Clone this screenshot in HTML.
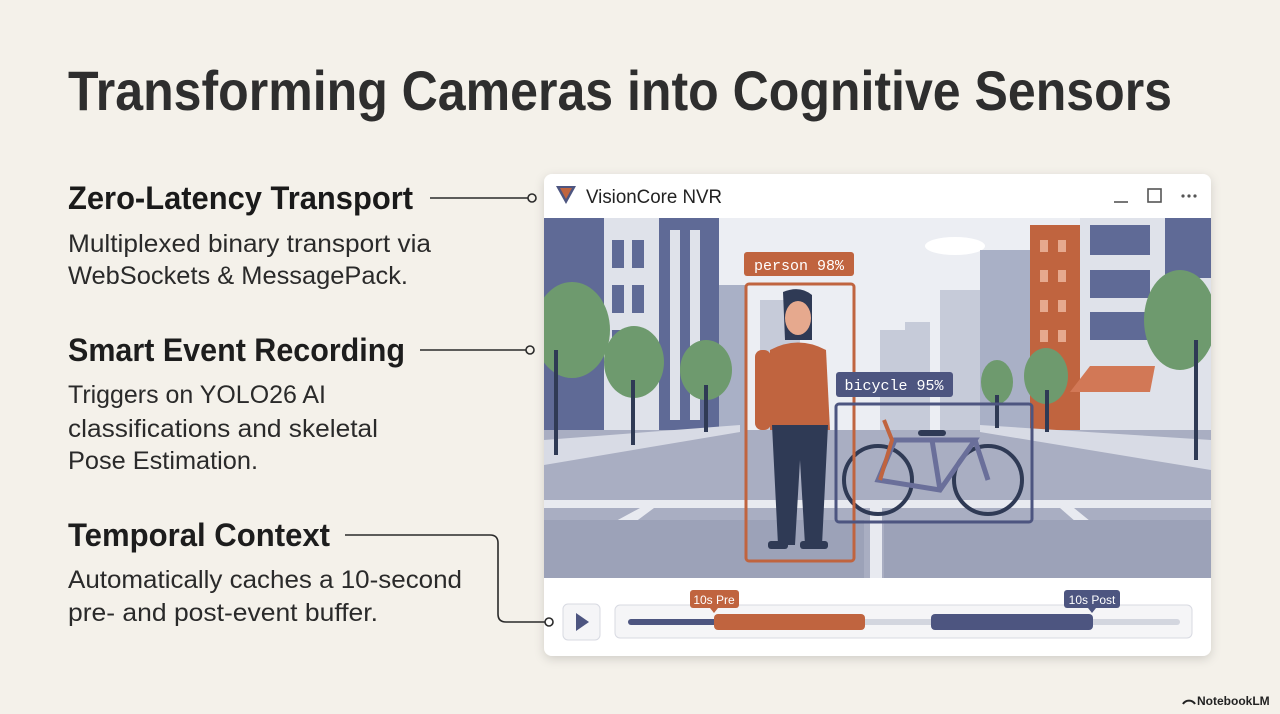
<!DOCTYPE html>
<html><head><meta charset="utf-8"><style>
html,body{margin:0;padding:0;background:#f4f1ea;}
svg{display:block;}
</style></head><body>
<svg width="1280" height="714" viewBox="0 0 1280 714" xmlns="http://www.w3.org/2000/svg" font-family="Liberation Sans, sans-serif">
<defs>
<filter id="sh" x="-5%" y="-5%" width="110%" height="115%"><feDropShadow dx="0" dy="3" stdDeviation="5" flood-color="#000" flood-opacity="0.15"/></filter>
<clipPath id="sc"><rect x="544" y="218" width="667" height="360"/></clipPath>
</defs>
<rect width="1280" height="714" fill="#f4f1ea"/>
<text x="68" y="110" font-size="56" font-weight="bold" fill="#2e2e2e" textLength="1104" lengthAdjust="spacingAndGlyphs">Transforming Cameras into Cognitive Sensors</text>

<g fill="#1d1d1d">
<text x="68" y="209" font-size="32" textLength="345" lengthAdjust="spacingAndGlyphs" font-weight="bold" fill="#1a1a1a">Zero-Latency Transport</text>
<text x="68" y="252" font-size="25" textLength="363" lengthAdjust="spacingAndGlyphs" fill="#2a2a2a">Multiplexed binary transport via</text>
<text x="68" y="284" font-size="25" textLength="340" lengthAdjust="spacingAndGlyphs" fill="#2a2a2a">WebSockets &amp; MessagePack.</text>
<text x="68" y="361" font-size="32" textLength="337" lengthAdjust="spacingAndGlyphs" font-weight="bold">Smart Event Recording</text>
<text x="68" y="403" font-size="25" textLength="258" lengthAdjust="spacingAndGlyphs" fill="#2a2a2a">Triggers on YOLO26 AI</text>
<text x="68" y="437" font-size="25" textLength="310" lengthAdjust="spacingAndGlyphs" fill="#2a2a2a">classifications and skeletal</text>
<text x="68" y="469" font-size="25" textLength="190" lengthAdjust="spacingAndGlyphs" fill="#2a2a2a">Pose Estimation.</text>
<text x="68" y="546" font-size="32" textLength="262" lengthAdjust="spacingAndGlyphs" font-weight="bold">Temporal Context</text>
<text x="68" y="588" font-size="25" textLength="394" lengthAdjust="spacingAndGlyphs" fill="#2a2a2a">Automatically caches a 10-second</text>
<text x="68" y="621" font-size="25" textLength="310" lengthAdjust="spacingAndGlyphs" fill="#2a2a2a">pre- and post-event buffer.</text>
</g>

<!-- window -->
<rect x="544" y="174" width="667" height="482" rx="8" fill="#fff" filter="url(#sh)"/>
<path d="M556 186 L576 186 L566 204 Z" fill="#4d5580"/><path d="M560 188 L572 188 L566 199 Z" fill="#c0643f"/>
<text x="586" y="203" font-size="19" fill="#222" textLength="136" lengthAdjust="spacingAndGlyphs">VisionCore NVR</text>
<line x1="1114" y1="202" x2="1128" y2="202" stroke="#555" stroke-width="1.6"/>
<rect x="1148" y="189" width="13" height="13" fill="none" stroke="#555" stroke-width="1.6"/>
<g fill="#555"><circle cx="1183" cy="196" r="1.6"/><circle cx="1189" cy="196" r="1.6"/><circle cx="1195" cy="196" r="1.6"/></g>

<g clip-path="url(#sc)">
<rect x="544" y="218" width="667" height="360" fill="#eceef3"/>
<ellipse cx="955" cy="246" rx="30" ry="9" fill="#fff"/>
<g fill="#c6cbd9">
<rect x="880" y="330" width="25" height="110"/><rect x="905" y="322" width="25" height="118"/><rect x="940" y="290" width="40" height="150"/><rect x="760" y="300" width="40" height="140"/>
</g>
<g fill="#a9b0c6"><rect x="980" y="250" width="50" height="190"/><rect x="700" y="285" width="45" height="155"/></g>
<rect x="544" y="218" width="60" height="220" fill="#5f6a96"/>
<rect x="604" y="218" width="55" height="220" fill="#dfe2ea"/>
<rect x="659" y="218" width="60" height="220" fill="#5f6a96"/>
<g fill="#dfe2ea"><rect x="670" y="230" width="10" height="190"/><rect x="690" y="230" width="10" height="190"/></g>
<g fill="#5f6a96"><rect x="612" y="240" width="12" height="28"/><rect x="632" y="240" width="12" height="28"/><rect x="612" y="285" width="12" height="28"/><rect x="632" y="285" width="12" height="28"/><rect x="612" y="330" width="12" height="28"/><rect x="632" y="330" width="12" height="28"/></g>
<rect x="1030" y="225" width="50" height="210" fill="#c0643f"/>
<g fill="#e6a98e"><rect x="1040" y="240" width="8" height="12"/><rect x="1058" y="240" width="8" height="12"/><rect x="1040" y="270" width="8" height="12"/><rect x="1058" y="270" width="8" height="12"/><rect x="1040" y="300" width="8" height="12"/><rect x="1058" y="300" width="8" height="12"/><rect x="1040" y="330" width="8" height="12"/><rect x="1058" y="330" width="8" height="12"/></g>
<rect x="1080" y="218" width="131" height="220" fill="#dfe2ea"/>
<g fill="#5f6a96"><rect x="1090" y="225" width="60" height="30"/><rect x="1090" y="270" width="60" height="28"/><rect x="1090" y="312" width="60" height="28"/><rect x="1165" y="218" width="46" height="60"/></g>
<path d="M1070 392 L1090 366 L1155 366 L1150 392 Z" fill="#d27856"/>
<path d="M544 430 L1211 430 L1211 578 L544 578 Z" fill="#a9aec2"/>
<path d="M544 440 L740 425 L740 432 L544 465 Z" fill="#d8dbe5"/>
<path d="M1211 440 L980 425 L980 432 L1211 470 Z" fill="#d8dbe5"/>
<rect x="544" y="500" width="667" height="8" fill="#e8eaf0"/>
<rect x="870" y="508" width="12" height="70" fill="#e8eaf0"/>
<path d="M544 560 L640 508 L654 508 L560 578 L544 578Z" fill="#e8eaf0"/>
<path d="M1060 508 L1074 508 L1160 578 L1140 578Z" fill="#e8eaf0"/>
<rect x="544" y="520" width="320" height="58" fill="#9ca2b8"/>
<rect x="884" y="520" width="327" height="58" fill="#9ca2b8"/>
<g fill="#6e9a6e">
<ellipse cx="572" cy="330" rx="38" ry="48"/><ellipse cx="634" cy="362" rx="30" ry="36"/><ellipse cx="706" cy="370" rx="26" ry="30"/>
<ellipse cx="1180" cy="320" rx="36" ry="50"/><ellipse cx="1046" cy="376" rx="22" ry="28"/><ellipse cx="997" cy="382" rx="16" ry="22"/>
</g>
<g stroke="#2f3a55" stroke-width="4"><line x1="556" y1="350" x2="556" y2="455"/><line x1="633" y1="380" x2="633" y2="445"/><line x1="706" y1="385" x2="706" y2="432"/><line x1="1196" y1="340" x2="1196" y2="460"/><line x1="1047" y1="390" x2="1047" y2="432"/><line x1="997" y1="395" x2="997" y2="428"/></g>
<path d="M783 292 Q800 285 812 295 L812 340 L785 340 Z" fill="#2f3a55"/>
<ellipse cx="798" cy="318" rx="13" ry="17" fill="#e6a98e"/>
<path d="M770 350 Q798 335 826 350 L830 430 L770 430 Z" fill="#c0643f"/>
<rect x="755" y="350" width="16" height="80" rx="7" fill="#c0643f"/>
<path d="M772 425 L828 425 L822 545 L805 545 L800 460 L795 545 L778 545 Z" fill="#2f3a55"/>
<rect x="768" y="541" width="20" height="8" rx="3" fill="#2f3a55"/><rect x="800" y="541" width="28" height="8" rx="3" fill="#2f3a55"/>
<g fill="none" stroke="#2f3a55" stroke-width="4"><circle cx="878" cy="480" r="34"/><circle cx="988" cy="480" r="34"/></g>
<g fill="none" stroke="#6a6f9a" stroke-width="5"><path d="M878 480 L940 490 L975 440 L895 440 Z"/><line x1="975" y1="440" x2="988" y2="480"/><line x1="940" y1="490" x2="932" y2="440"/></g>
<path d="M884 420 L892 440 L880 480" stroke="#c0643f" stroke-width="4" fill="none"/>
<rect x="918" y="430" width="28" height="6" rx="3" fill="#2f3a55"/>
<rect x="746" y="284" width="108" height="277" rx="3" fill="none" stroke="#c0643f" stroke-width="3"/>
<rect x="744" y="252" width="110" height="24" rx="3" fill="#c0643f"/>
<text x="799" y="270" font-size="15" font-family="Liberation Mono, monospace" fill="#fff" text-anchor="middle">person 98%</text>
<rect x="836" y="404" width="196" height="118" rx="3" fill="none" stroke="#4d5580" stroke-width="3"/>
<rect x="836" y="372" width="117" height="25" rx="3" fill="#4d5580"/>
<text x="894" y="390" font-size="15" font-family="Liberation Mono, monospace" fill="#fff" text-anchor="middle">bicycle 95%</text>
</g>

<rect x="563" y="604" width="37" height="36" rx="5" fill="#f5f5f7" stroke="#d8dae2"/>
<path d="M576 613 L589 622 L576 631 Z" fill="#4d5580"/>
<rect x="615" y="605" width="577" height="33" rx="5" fill="#f5f5f7" stroke="#d8dae2"/>
<rect x="628" y="619" width="552" height="6" rx="3" fill="#d3d6df"/>
<rect x="628" y="619" width="90" height="6" rx="3" fill="#4d5580"/>
<rect x="714" y="614" width="151" height="16" rx="4" fill="#c0643f"/>
<rect x="931" y="614" width="162" height="16" rx="4" fill="#4d5580"/>
<rect x="690" y="590" width="49" height="18" rx="3" fill="#c0643f"/><path d="M710 608 L714 613 L718 608Z" fill="#c0643f"/>
<text x="714" y="604" font-size="12" fill="#fff" text-anchor="middle">10s Pre</text>
<rect x="1064" y="590" width="56" height="18" rx="3" fill="#4d5580"/><path d="M1088 608 L1092 613 L1096 608Z" fill="#4d5580"/>
<text x="1092" y="604" font-size="12" fill="#fff" text-anchor="middle">10s Post</text>

<g stroke="#2a2a2a" stroke-width="1.6" fill="#f4f1ea">
<line x1="430" y1="198" x2="528" y2="198"/><circle cx="532" cy="198" r="4"/>
<line x1="420" y1="350" x2="526" y2="350"/><circle cx="530" cy="350" r="4"/>
<path d="M345 535 H490 Q498 535 498 543 V614 Q498 622 506 622 H545" fill="none"/><circle cx="549" cy="622" r="4" fill="#fff"/>
</g>

<text x="1197" y="705" font-size="12" font-weight="bold" fill="#222">NotebookLM</text>
<path d="M1183 704 A7 7 0 0 1 1195 704" fill="none" stroke="#222" stroke-width="2"/>
</svg>
</body></html>
